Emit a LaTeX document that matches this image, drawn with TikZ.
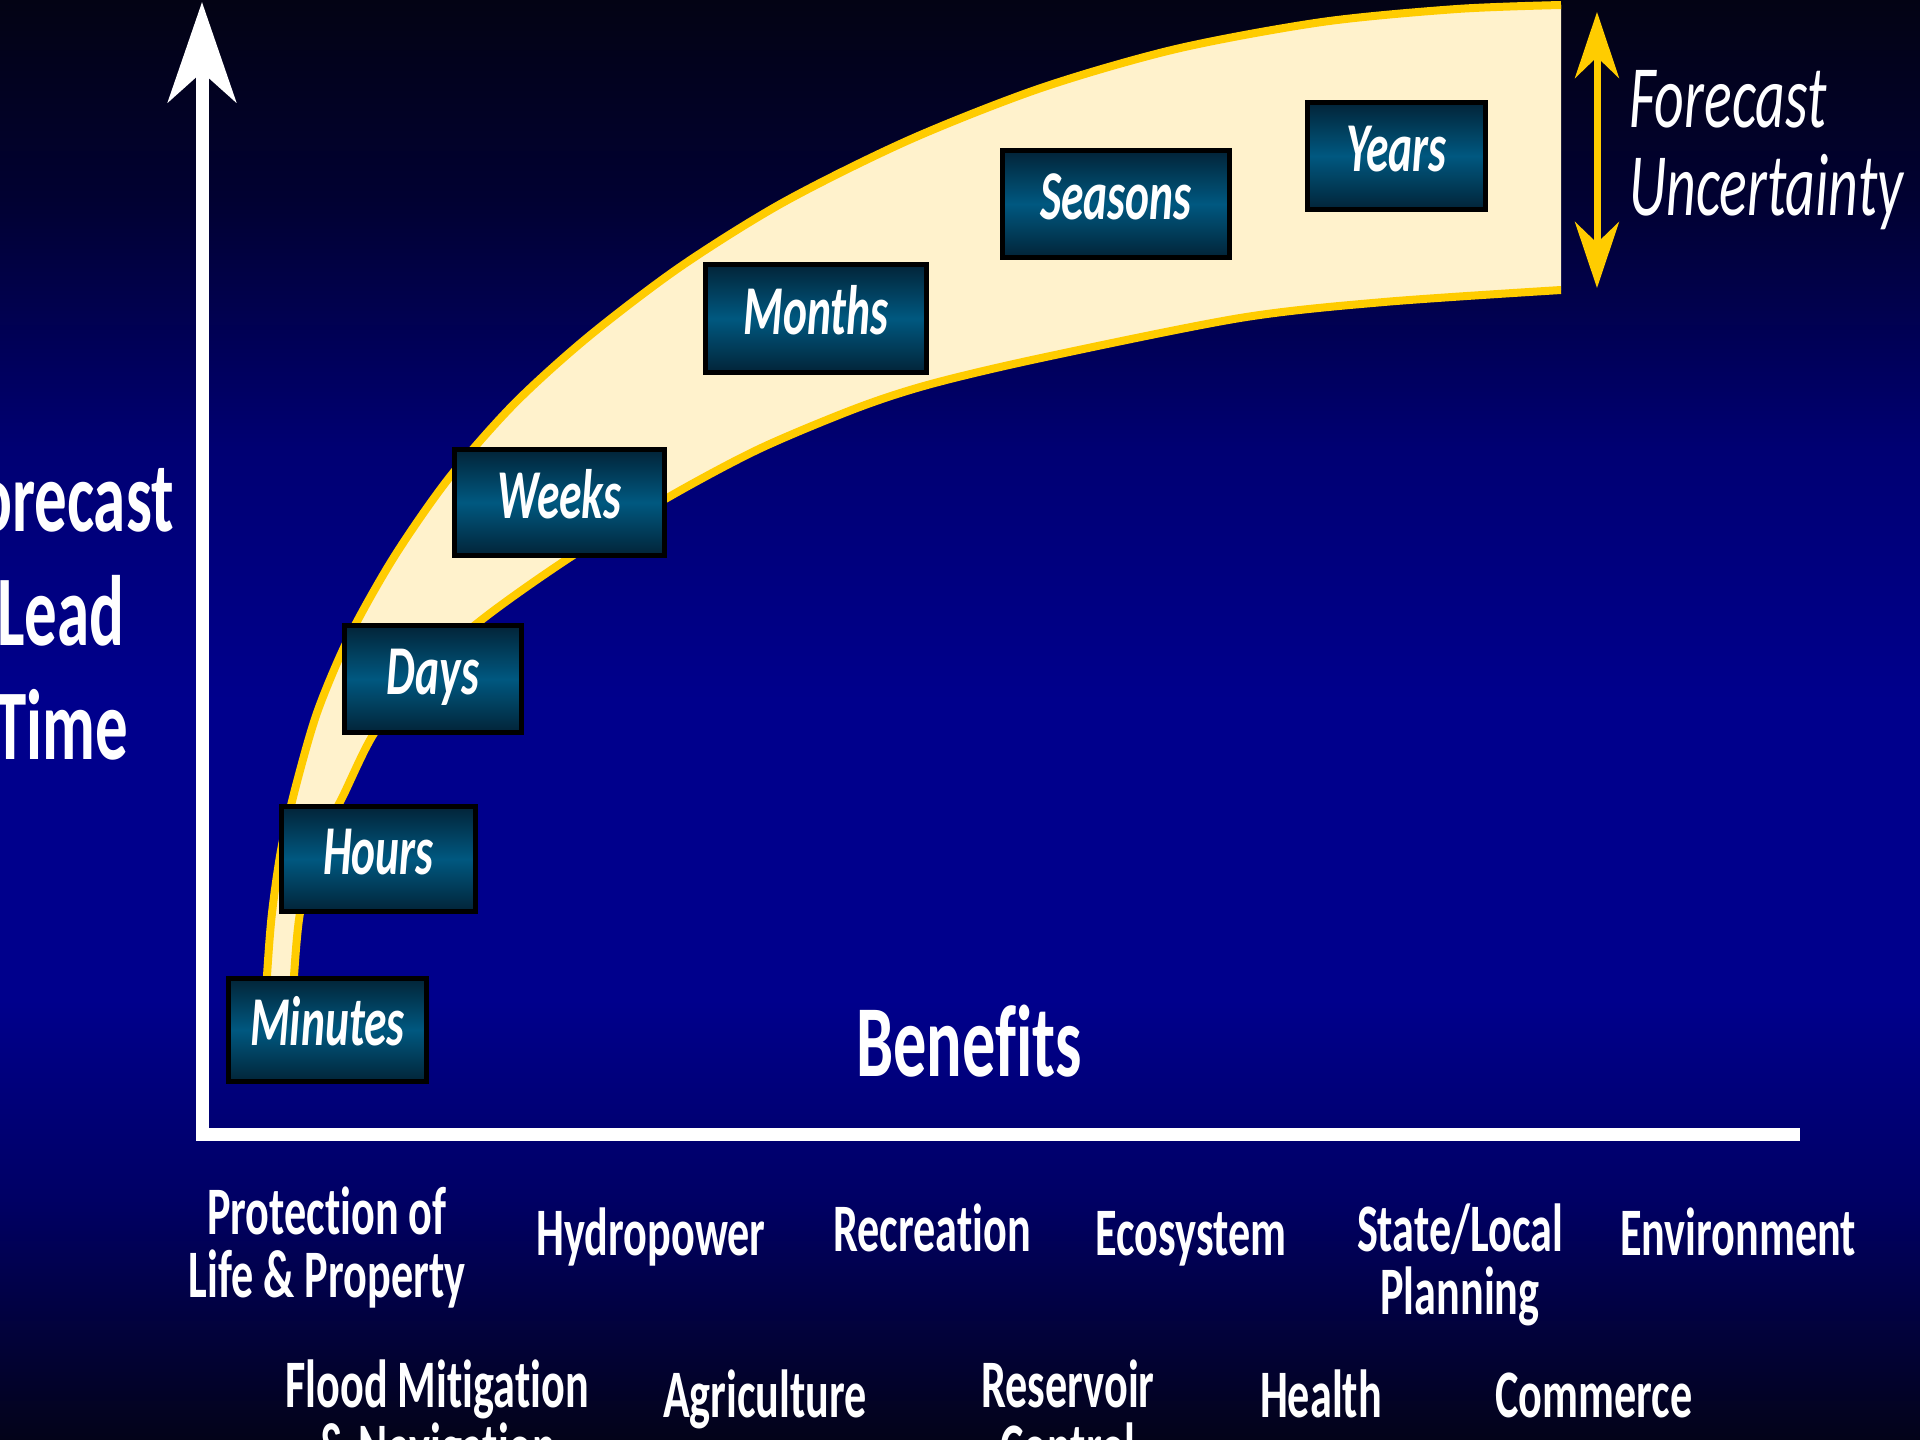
\documentclass[tikz,border=0pt]{standalone}
\usepackage{fontspec}
\setmainfont{Carlito}[FakeStretch=0.65, Ligatures=NoCommon]
\usetikzlibrary{arrows.meta}
\definecolor{bgtop}{RGB}{3,3,20}
\definecolor{bgmidA}{RGB}{1,1,50}
\definecolor{bgmidB}{RGB}{0,0,115}
\definecolor{bgblue}{RGB}{0,0,140}
\definecolor{bglow}{RGB}{0,0,100}
\definecolor{bgbot}{RGB}{3,3,25}
\definecolor{cream}{RGB}{255,242,204}
\definecolor{gold}{RGB}{255,204,0}
\definecolor{bxd}{RGB}{2,36,56}
\definecolor{bxm}{RGB}{0,88,128}
\tikzset{
  tbox/.style={draw=black, line width=5pt, top color=bxd, bottom color=bxd, middle color=bxm,
    text=white, font=\fontsize{70}{80}\selectfont\bfseries\itshape, inner sep=0pt,
    text height=44pt, text depth=13pt},
  axislbl/.style={text=white, font=\fontsize{100}{114}\selectfont\bfseries, align=center, inner sep=0pt},
  benefitlbl/.style={text=white, font=\fontsize{102}{110}\selectfont\bfseries, inner sep=0pt},
  usagelbl/.style={text=white, font=\fontsize{68}{63}\selectfont\bfseries, align=center, inner sep=0pt},
  unclbl/.style={text=white, font=\fontsize{89}{88}\selectfont\itshape, align=left, inner sep=0pt},
  axisline/.style={white, line width=13pt},
  uncarrow/.style={gold, line width=7pt},
  bandline/.style={gold, line width=8pt},
}
\begin{document}
\begin{tikzpicture}[x=1pt,y=-1pt]
\useasboundingbox (0,0) rectangle (1920,1440);
\clip (0,0) rectangle (1920,1440);
% background
\fill[top color=bgtop, bottom color=bgmidA] (0,0) rectangle (1920,201);
\fill[top color=bgmidA, bottom color=bgmidB] (0,200) rectangle (1920,451);
\fill[top color=bgmidB, bottom color=bgblue] (0,450) rectangle (1920,701);
\fill[bgblue] (0,700) rectangle (1920,1001);
\fill[top color=bgblue, bottom color=bglow] (0,1000) rectangle (1920,1201);
\fill[top color=bglow, bottom color=bgbot] (0,1200) rectangle (1920,1440);
% band
\fill[cream] plot[smooth] coordinates {(267,995) (267,976) (272,913) (282,845) (298,778) (318,710) (349,637) (394,557) (449,478) (514,404) (588,337) (680,267) (784,202) (909,140) (1041,88) (1176,49) (1322,22) (1457,9) (1561,5)}
  -- plot[smooth] coordinates {(1561,290) (1384,302) (1240,318) (1041,358) (931,384) (857,408) (759,449) (667,498) (569,558) (484,618) (416,677) (373,735) (343,796) (316,851) (300,913) (294,976) (294,995)} -- cycle;
\draw[bandline] plot[smooth] coordinates {(267,995) (267,976) (272,913) (282,845) (298,778) (318,710) (349,637) (394,557) (449,478) (514,404) (588,337) (680,267) (784,202) (909,140) (1041,88) (1176,49) (1322,22) (1457,9) (1561,5)};
\draw[bandline] plot[smooth] coordinates {(1561,290) (1384,302) (1240,318) (1041,358) (931,384) (857,408) (759,449) (667,498) (569,558) (484,618) (416,677) (373,735) (343,796) (316,851) (300,913) (294,976) (294,995)};
% axes
\coordinate (ytip) at (202,2);
\coordinate (corner) at (202,1134);
\coordinate (xend) at (1800,1134);
\draw[axisline, {Stealth[length=100pt, width=68pt, inset=30pt]}-] (ytip) -- (corner) -- (xend);
% uncertainty arrow
\coordinate (utop) at (1597,12);
\coordinate (ubot) at (1597,288);
\draw[uncarrow, {Stealth[length=66pt, width=44pt, inset=21pt]}-{Stealth[length=66pt, width=44pt, inset=21pt]}] (utop) -- (ubot);
% boxes
\node[tbox, minimum width=198, minimum height=103] (minutes) at (327.5,1030) {Minutes};
\node[tbox, minimum width=194, minimum height=105] (hours) at (378.5,859) {Hours};
\node[tbox, minimum width=177, minimum height=107] (days) at (433,679) {Days};
\node[tbox, minimum width=210, minimum height=106] (weeks) at (559.5,502.5) {Weeks};
\node[tbox, minimum width=221, minimum height=108] (months) at (816,318.5) {Months};
\node[tbox, minimum width=227, minimum height=107] (seasons) at (1116,204) {Seasons};
\node[tbox, minimum width=178, minimum height=107] (years) at (1396.5,156) {Years};
% labels
\node[axislbl] (ylabel) at (61,613) {Forecast\\Lead\\Time};
\node[benefitlbl, anchor=base] (benefits) at (969,1076) {Benefits};
\node[unclbl, anchor=west] (unc) at (1629,150) {Forecast\\Uncertainty};
% benefit categories
\node[usagelbl] (prot) at (327,1247) {Protection of\\Life \& Property};
\node[usagelbl, anchor=base] (hydro) at (651,1255) {Hydropower};
\node[usagelbl, anchor=base] (recr) at (932,1251) {Recreation};
\node[usagelbl, anchor=base] (eco) at (1191,1255) {Ecosystem};
\node[usagelbl] (state) at (1460,1265) {State/Local\\Planning};
\node[usagelbl, anchor=base] (env) at (1738,1255) {Environment};
\node[usagelbl] (flood) at (437,1421) {Flood Mitigation\\\& Navigation};
\node[usagelbl, anchor=base] (agri) at (765,1417) {Agriculture};
\node[usagelbl] (res) at (1068,1415) {Reservoir\\Control};
\node[usagelbl, anchor=base] (health) at (1321,1417) {Health};
\node[usagelbl, anchor=base] (comm) at (1594,1417) {Commerce};
\end{tikzpicture}
\end{document}
